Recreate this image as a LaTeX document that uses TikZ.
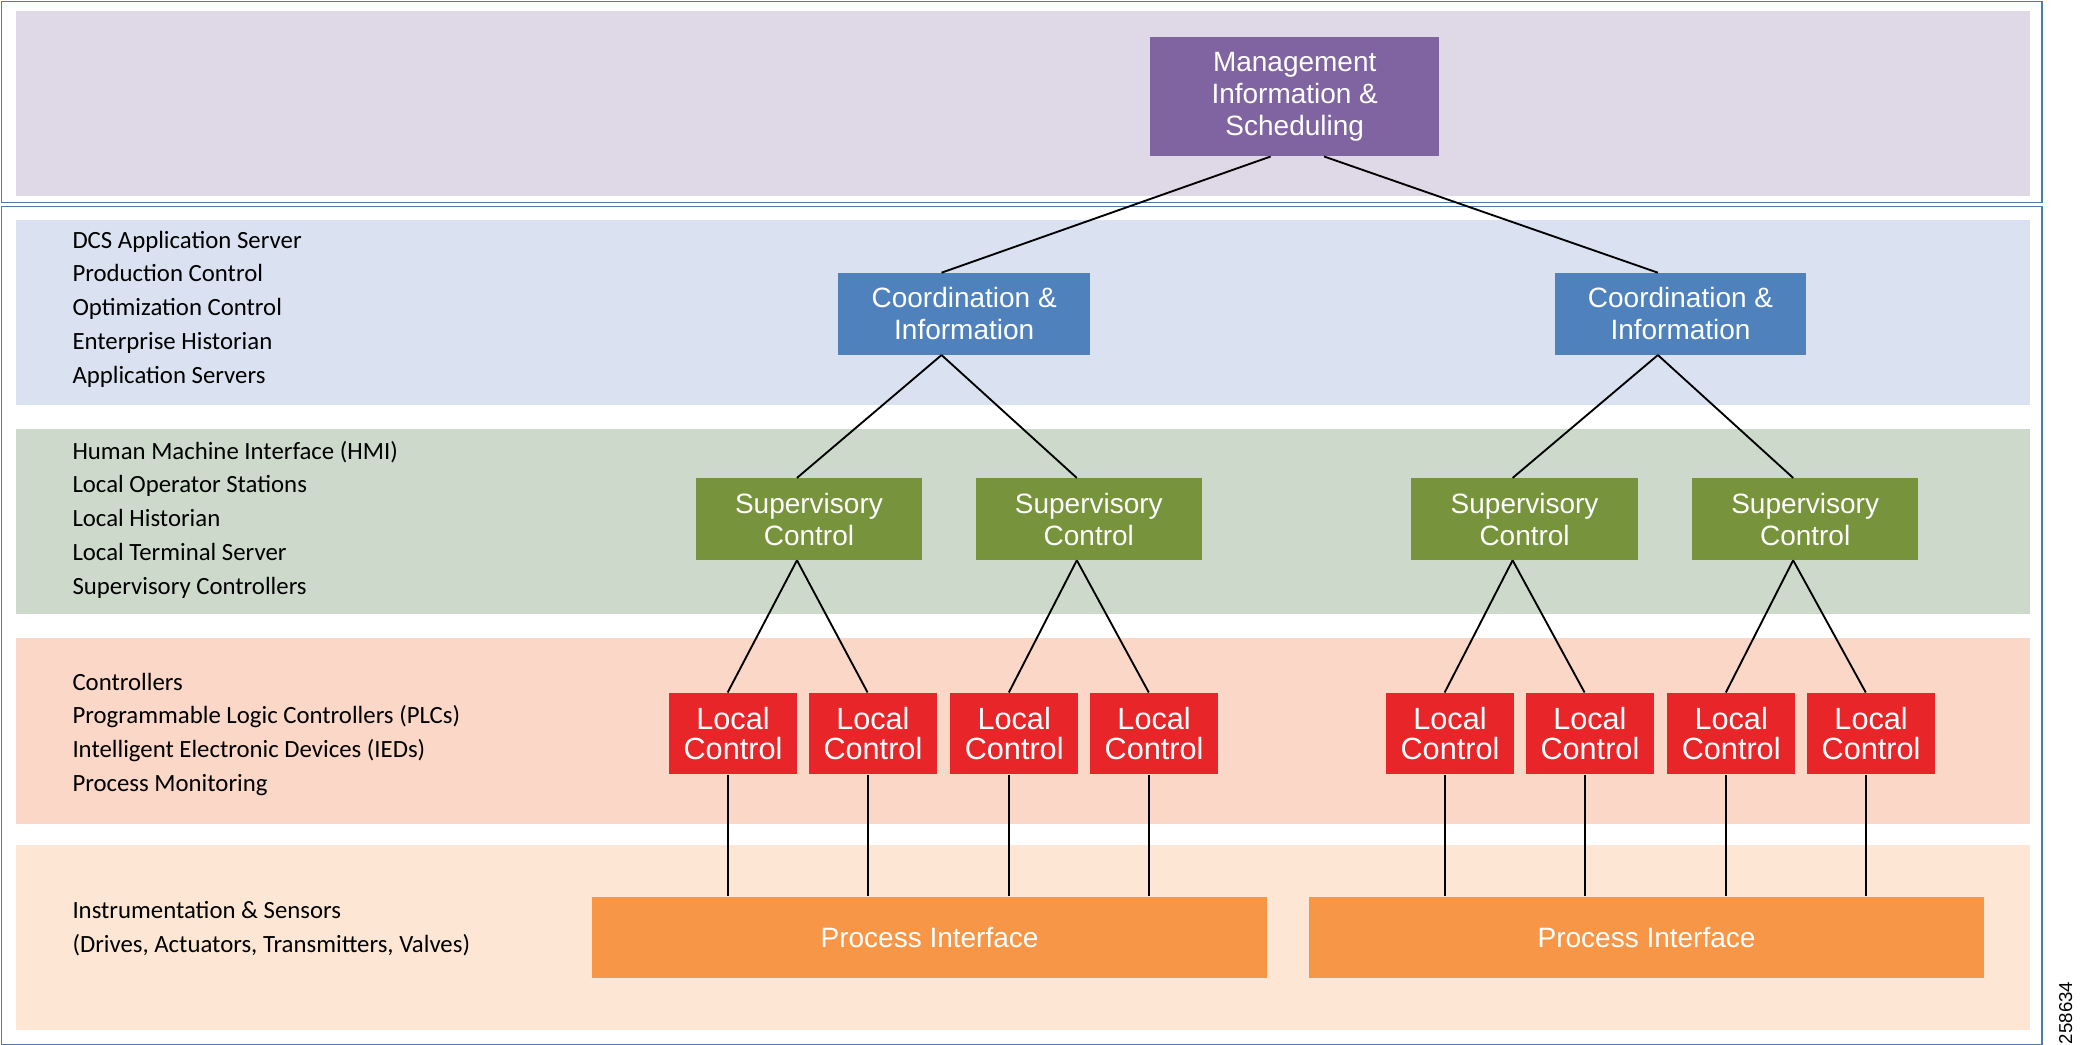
\documentclass[tikz,border=0pt]{standalone}
\usepackage{fontspec}
\setmainfont{Liberation Sans}
\newfontfamily\calibrifont{Carlito}
\usetikzlibrary{calc}
\definecolor{frame}{HTML}{4F7BAA}
\definecolor{bpurple}{HTML}{DFD8E7}
\definecolor{bblue}{HTML}{DAE1F0}
\definecolor{bgreen}{HTML}{CDDACB}
\definecolor{bsalmon}{HTML}{FAD7C6}
\definecolor{bpeach}{HTML}{FDE7D4}
\definecolor{cmgmt}{HTML}{8064A2}
\definecolor{ccoord}{HTML}{4F81BD}
\definecolor{csup}{HTML}{77933C}
\definecolor{cloc}{HTML}{E8262A}
\definecolor{cproc}{HTML}{F79646}
\begin{document}
\begin{tikzpicture}[x=0.5pt,y=-0.5pt,
  box/.style={fill=#1,text=white,inner sep=0pt,align=center,font=\fontsize{10.5}{12}\selectfont},
  lbl/.style={anchor=west,inner sep=0pt,font=\calibrifont\fontsize{9.3}{12.7}\selectfont,align=left},
  ln/.style={line width=0.7pt}]
\useasboundingbox (0,0) rectangle (1563,784);
\fill[bpurple] (12,8) rectangle (1523,147);
\fill[bblue] (12,165) rectangle (1523,304);
\fill[bgreen] (12,322) rectangle (1523,461);
\fill[bsalmon] (12,479) rectangle (1523,618);
\fill[bpeach] (12,634) rectangle (1523,773);
\draw[frame,line width=0.6pt] (1,1) rectangle (1532,152);
\draw[frame,line width=0.6pt] (1,155) rectangle (1532,784);
\node[box=cmgmt,minimum width=108.5pt,minimum height=44.5pt] (m) at (971.5,72.5) {Management\\Information \&\\Scheduling};
\node[box=ccoord,minimum width=94.5pt,minimum height=30.5pt] (c1) at (723.5,235.5) {Coordination \&\\Information};
\node[box=ccoord,minimum width=94pt,minimum height=30.5pt] (c2) at (1261,235.5) {Coordination \&\\Information};
\foreach \n/\x in {s1/607,s2/817,s3/1144,s4/1354.5}
  \node[box=csup,minimum width=85pt,minimum height=30.5pt] (\n) at (\x,389.5) {Supervisory\\Control};
\foreach \n/\x in {l1/550,l2/655,l3/761,l4/866,l5/1088,l6/1193,l7/1299,l8/1404}
  \node[box=cloc,minimum width=48pt,minimum height=30.5pt,font=\fontsize{11.5}{11.5}\selectfont] (\n) at (\x,550.5) {Local\\Control};
\node[box=cproc,minimum width=253.5pt,minimum height=30.5pt] (p1) at (697.5,703.5) {Process Interface};
\node[box=cproc,minimum width=253.5pt,minimum height=30.5pt] (p2) at (1235.5,703.5) {Process Interface};
\draw[ln] ([xshift=-9pt]m.south) -- ([xshift=-8.5pt]c1.north);
\draw[ln] ([xshift=11pt]m.south) -- ([xshift=-8.5pt]c2.north);
\draw[ln] ([xshift=-8.5pt]c1.south) -- ([xshift=-4.5pt]s1.north);
\draw[ln] ([xshift=-8.5pt]c1.south) -- ([xshift=-4.5pt]s2.north);
\draw[ln] ([xshift=-8.5pt]c2.south) -- ([xshift=-4.5pt]s3.north);
\draw[ln] ([xshift=-8.5pt]c2.south) -- ([xshift=-4.5pt]s4.north);
\foreach \s/\a/\b in {s1/l1/l2,s2/l3/l4,s3/l5/l6,s4/l7/l8}{
  \draw[ln] ([xshift=-4.5pt]\s.south) -- ([xshift=-2pt]\a.north);
  \draw[ln] ([xshift=-4.5pt]\s.south) -- ([xshift=-2pt]\b.north);}
\foreach \l/\p in {l1/p1,l2/p1,l3/p1,l4/p1,l5/p2,l6/p2,l7/p2,l8/p2}
  \draw[ln] ([xshift=-2pt]\l.south) -- ([xshift=-2pt]\l.south |- \p.north);
\node[lbl] (t1) at (54,232) {DCS Application Server\\Production Control\\Optimization Control\\Enterprise Historian\\Application Servers};
\node[lbl] (t2) at (54,390) {Human Machine Interface (HMI)\\Local Operator Stations\\Local Historian\\Local Terminal Server\\Supervisory Controllers};
\node[lbl] (t3) at (54,551) {Controllers\\Programmable Logic Controllers (PLCs)\\Intelligent Electronic Devices (IEDs)\\Process Monitoring};
\node[lbl] (t4) at (54,697) {Instrumentation \& Sensors\\(Drives, Actuators, Transmitters, Valves)};
\node[rotate=90,inner sep=0pt,font=\fontsize{7}{8}\selectfont] (id) at (1550,760) {258634};
\end{tikzpicture}
\end{document}
